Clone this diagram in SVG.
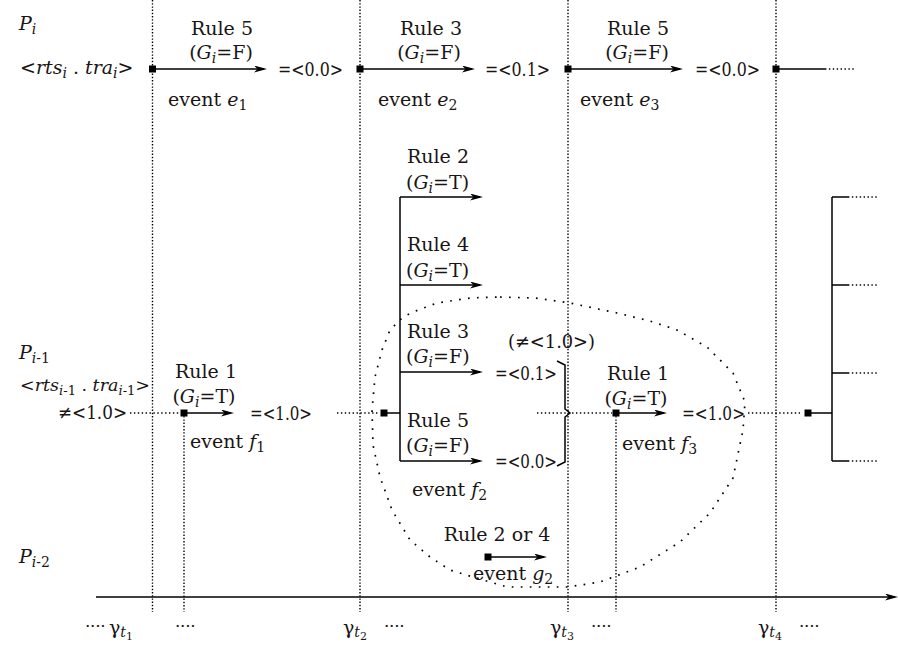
<svg xmlns="http://www.w3.org/2000/svg" width="898" height="646" viewBox="0 0 898 646">
<style>
.t{font-family:"DejaVu Serif","Liberation Serif",serif;font-size:19px;fill:#1a1414}
.s{font-size:14px}
.ss{font-size:11px}
.dd{font-size:17px;letter-spacing:-0.3px}
.i{font-style:italic}
.ln{stroke:#000;stroke-width:1.5;fill:none}
.vd{stroke:#000;stroke-width:1.4;stroke-dasharray:1.4 1.8;fill:none}
.hd{stroke:#000;stroke-width:1.4;stroke-dasharray:1.4 2.5;fill:none}
.el{stroke:#000;stroke-width:1.7;stroke-dasharray:1.7 7.3;fill:none}
.sq{fill:#000}
</style>
<defs>
<marker id="ah" markerUnits="userSpaceOnUse" markerWidth="13" markerHeight="7" viewBox="0 0 13 7" refX="10" refY="3.5" orient="auto"><path d="M0,0 L13,3.5 L0,7 L3.5,3.5 z" fill="#000"/></marker>
</defs>
<rect width="898" height="646" fill="#fff"/>

<g id="timelines">
<path class="vd" d="M152.5,0 V612 M360,0 V612 M568,0 V612 M776,0 V612 M184,413 V612 M616,413 V612"/>
<line class="ln" x1="96" y1="597" x2="895" y2="597" marker-end="url(#ah)"/>
</g>

<g id="ellipse">
<polygon class="el" points="500,297 535,298 570,303 617,313 650,321 677,330 707,347 733,373 745,402 743,430 733,478 710,513 680,542 640,567 600,582 568,587 507,587 473,577 450,570 430,557 410,540 392,510 380,477 373,445 372,410 375,377 382,350 390,330 403,317 413,312 437,303 470,298"/>
</g>

<g id="connectors">
<line class="ln" x1="152.5" y1="69" x2="264" y2="69" marker-end="url(#ah)"/>
<line class="ln" x1="360" y1="69" x2="472" y2="69" marker-end="url(#ah)"/>
<line class="ln" x1="568" y1="69" x2="680" y2="69" marker-end="url(#ah)"/>
<line class="ln" x1="776" y1="69" x2="825" y2="69"/>
<line class="hd" x1="825" y1="69" x2="856" y2="69"/>

<line class="hd" x1="130" y1="413" x2="180" y2="413"/>
<line class="ln" x1="184" y1="413" x2="231" y2="413" marker-end="url(#ah)"/>
<line class="hd" x1="337" y1="413" x2="379" y2="413"/>
<path class="ln" d="M384,413 H400 M400,197 V461"/>
<line class="ln" x1="400" y1="197" x2="480" y2="197" marker-end="url(#ah)"/>
<line class="ln" x1="400" y1="285" x2="480" y2="285" marker-end="url(#ah)"/>
<line class="ln" x1="400" y1="372" x2="480" y2="372" marker-end="url(#ah)"/>
<line class="ln" x1="400" y1="461" x2="480" y2="461" marker-end="url(#ah)"/>
<line class="hd" x1="537" y1="413" x2="612" y2="413"/>
<path class="ln" d="M557,361 L565,365 V409 L570,413 L565,417 V462 L557,466" stroke-width="1.4"/>
<line class="ln" x1="616" y1="413" x2="664" y2="413" marker-end="url(#ah)"/>
<line class="hd" x1="748" y1="413" x2="800" y2="413"/>
<path class="ln" d="M808,413 H832 M832,197 V461 M832,197 H848 M832,285 H848 M832,373 H848 M832,461 H848"/>
<path class="hd" d="M848,197 H879 M848,285 H879 M848,373 H879 M848,461 H879"/>
<line class="ln" x1="488" y1="557" x2="544" y2="557" marker-end="url(#ah)"/>
</g>

<g id="squares">
<rect class="sq" x="149" y="65.5" width="7" height="7"/>
<rect class="sq" x="356.5" y="65.5" width="7" height="7"/>
<rect class="sq" x="564.5" y="65.5" width="7" height="7"/>
<rect class="sq" x="772.5" y="65.5" width="7" height="7"/>
<rect class="sq" x="180.5" y="409.5" width="7" height="7"/>
<rect class="sq" x="380.5" y="409.5" width="7" height="7"/>
<rect class="sq" x="612.5" y="409.5" width="7" height="7"/>
<rect class="sq" x="804.5" y="409.5" width="7" height="7"/>
<rect class="sq" x="484.5" y="553.5" width="7" height="7"/>
</g>

<g id="process-labels" class="t">
<text x="19" y="30"><tspan class="i">P</tspan><tspan class="s i" dy="4">i</tspan></text>
<text x="20" y="74">&lt;<tspan class="i">rts</tspan><tspan class="s i" dy="4">i</tspan><tspan dy="-4"> . </tspan><tspan class="i">tra</tspan><tspan class="s i" dy="4">i</tspan><tspan dy="-4">&gt;</tspan></text>
<text x="19" y="359"><tspan class="i">P</tspan><tspan class="s" dy="4"><tspan class="i">i</tspan>-1</tspan></text>
<text x="20" y="391" style="font-size:17.5px">&lt;<tspan class="i">rts</tspan><tspan dy="4" style="font-size:13px"><tspan class="i">i</tspan>-1</tspan><tspan dy="-4"> . </tspan><tspan class="i">tra</tspan><tspan dy="4" style="font-size:13px"><tspan class="i">i</tspan>-1</tspan><tspan dy="-4">&gt;</tspan></text>
<text x="58" y="419" textLength="69" lengthAdjust="spacingAndGlyphs">≠&lt;1.0&gt;</text>
<text x="19" y="563"><tspan class="i">P</tspan><tspan class="s" dy="4"><tspan class="i">i</tspan>-2</tspan></text>
</g>

<g id="event-e1" class="t">
<text x="222" y="35" text-anchor="middle">Rule 5</text>
<text x="221" y="59" text-anchor="middle">(<tspan class="i">G</tspan><tspan class="s i" dy="4">i</tspan><tspan dy="-4">=F)</tspan></text>
<text x="168" y="106">event <tspan class="i">e</tspan><tspan class="s" dy="4">1</tspan></text>
<text x="278" y="76" textLength="65" lengthAdjust="spacingAndGlyphs">=&lt;0.0&gt;</text>
</g>
<g id="event-e2" class="t">
<text x="431" y="35" text-anchor="middle">Rule 3</text>
<text x="429" y="59" text-anchor="middle">(<tspan class="i">G</tspan><tspan class="s i" dy="4">i</tspan><tspan dy="-4">=F)</tspan></text>
<text x="378" y="106">event <tspan class="i">e</tspan><tspan class="s" dy="4">2</tspan></text>
<text x="485" y="76" textLength="65" lengthAdjust="spacingAndGlyphs">=&lt;0.1&gt;</text>
</g>
<g id="event-e3" class="t">
<text x="638" y="35" text-anchor="middle">Rule 5</text>
<text x="637" y="59" text-anchor="middle">(<tspan class="i">G</tspan><tspan class="s i" dy="4">i</tspan><tspan dy="-4">=F)</tspan></text>
<text x="580" y="106">event <tspan class="i">e</tspan><tspan class="s" dy="4">3</tspan></text>
<text x="695" y="76" textLength="65" lengthAdjust="spacingAndGlyphs">=&lt;0.0&gt;</text>
</g>

<g id="event-f1" class="t">
<text x="206" y="378" text-anchor="middle">Rule 1</text>
<text x="204" y="403" text-anchor="middle">(<tspan class="i">G</tspan><tspan class="s i" dy="4">i</tspan><tspan dy="-4">=T)</tspan></text>
<text x="190" y="448">event <tspan class="i">f</tspan><tspan class="s" dy="4">1</tspan></text>
<text x="250" y="420" textLength="62" lengthAdjust="spacingAndGlyphs">=&lt;1.0&gt;</text>
</g>

<g id="event-f2" class="t">
<text x="407" y="163">Rule 2</text>
<text x="406" y="189">(<tspan class="i">G</tspan><tspan class="s i" dy="4">i</tspan><tspan dy="-4">=T)</tspan></text>
<text x="407" y="251">Rule 4</text>
<text x="406" y="277">(<tspan class="i">G</tspan><tspan class="s i" dy="4">i</tspan><tspan dy="-4">=T)</tspan></text>
<text x="407" y="338">Rule 3</text>
<text x="406" y="363">(<tspan class="i">G</tspan><tspan class="s i" dy="4">i</tspan><tspan dy="-4">=F)</tspan></text>
<text x="495" y="380" textLength="62" lengthAdjust="spacingAndGlyphs">=&lt;0.1&gt;</text>
<text x="508" y="348" textLength="87" lengthAdjust="spacingAndGlyphs">(≠&lt;1.0&gt;)</text>
<text x="407" y="427">Rule 5</text>
<text x="406" y="452">(<tspan class="i">G</tspan><tspan class="s i" dy="4">i</tspan><tspan dy="-4">=F)</tspan></text>
<text x="495" y="468" textLength="62" lengthAdjust="spacingAndGlyphs">=&lt;0.0&gt;</text>
<text x="412" y="496">event <tspan class="i">f</tspan><tspan class="s" dy="4">2</tspan></text>
</g>

<g id="event-f3" class="t">
<text x="638" y="380" text-anchor="middle">Rule 1</text>
<text x="636" y="405" text-anchor="middle">(<tspan class="i">G</tspan><tspan class="s i" dy="4">i</tspan><tspan dy="-4">=T)</tspan></text>
<text x="622" y="450">event <tspan class="i">f</tspan><tspan class="s" dy="4">3</tspan></text>
<text x="682" y="420" textLength="63" lengthAdjust="spacingAndGlyphs">=&lt;1.0&gt;</text>
</g>

<g id="event-g2" class="t">
<text x="497" y="541" text-anchor="middle">Rule 2 or 4</text>
<text x="473" y="580">event <tspan class="i">g</tspan><tspan class="s" dy="4">2</tspan></text>
</g>

<g id="time-labels" class="t">
<text x="85" y="632" class="dd">····</text>
<text x="109" y="634">γ<tspan class="s i" dy="3">t</tspan><tspan class="ss" dy="3">1</tspan></text>
<text x="175" y="632" class="dd">····</text>
<text x="343" y="634">γ<tspan class="s i" dy="3">t</tspan><tspan class="ss" dy="3">2</tspan></text>
<text x="384" y="632" class="dd">····</text>
<text x="550" y="634">γ<tspan class="s i" dy="3">t</tspan><tspan class="ss" dy="3">3</tspan></text>
<text x="591" y="632" class="dd">····</text>
<text x="758" y="634">γ<tspan class="s i" dy="3">t</tspan><tspan class="ss" dy="3">4</tspan></text>
<text x="799" y="632" class="dd">····</text>
</g>
</svg>
